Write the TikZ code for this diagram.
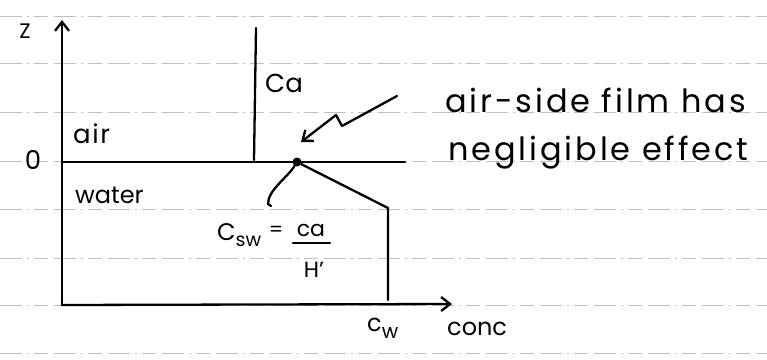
\documentclass[tikz,border=0pt]{standalone}
\usepackage{fontspec}
\setmainfont{Poppins}
\newfontfamily\handwide[LetterSpace=9]{Poppins}
\newfontfamily\handmid[LetterSpace=6]{Poppins}
\usetikzlibrary{arrows.meta}
\tikzset{
  ruled/.style={draw=black!25, line width=0.9pt, dash pattern=on 22pt off 5pt on 2pt off 5pt on 14pt off 6pt},
  ink/.style={draw=black, line width=2.3pt, line cap=round, line join=round},
  lbl/.style={inner sep=0pt, text=black},
  tip/.style={-{Straight Barb[length=9pt,width=14pt,line width=2.3pt]}}
}
\begin{document}
\begin{tikzpicture}[x=1pt,y=-1pt]
\useasboundingbox (0,0) rectangle (767,359);
% notebook ruled lines
\foreach \yy in {16,63,112,161,209,258,305,353}
  \draw[ruled] (0,\yy) -- (767,\yy);
% named points
\coordinate (O) at (62,305);
\coordinate (ztop) at (62,20);
\coordinate (xend) at (452,304);
\coordinate (il) at (62,162);
\coordinate (ir) at (405,162);
\coordinate (cat) at (256,28);
\coordinate (cab) at (254,160);
\coordinate (knee) at (388,208);
\coordinate (cwb) at (388,300);
\coordinate (ldr) at (268,204);
\coordinate (l1) at (397,96);
\coordinate (l2) at (342,126);
\coordinate (l3) at (336,115);
\coordinate (ltip) at (301,142);
\node[circle, fill=black, inner sep=0pt, minimum size=9pt] (dot) at (297,162) {};
% axes
\draw[ink, tip] (O) -- (ztop);
\draw[ink, tip] (O) -- (xend);
% interface
\draw[ink] (il) -- (ir);
% air concentration
\draw[ink] (cat) -- (cab);
% water profile
\draw[ink] (dot) -- (knee) -- (cwb);
% leader to equation
\draw[ink] (dot) .. controls (287,178) and (268,190) .. (ldr) -- (271,206);
% lightning arrow
\draw[ink, tip] (l1) -- (l2) -- (l3) -- (ltip);
% fraction bar
\coordinate (fb1) at (293,243);
\coordinate (fb2) at (330,243);
\draw[ink] (fb1) -- (fb2);
% labels
\node[lbl, font=\fontsize{21}{24}\selectfont] (zl) at (25,31) {Z};
\node[lbl, font=\fontsize{26}{30}\selectfont] (zero) at (33,160) {0};
\node[lbl, anchor=base west, font=\handmid\fontsize{26}{30}\selectfont] (air) at (73,143) {air};
\node[lbl, anchor=base west, font=\fontsize{24}{28}\selectfont] (water) at (75,203) {water};
\node[lbl, anchor=base west, font=\fontsize{26}{30}\selectfont] (ca) at (265,92) {Ca};
\node[lbl, anchor=base west, font=\handwide\fontsize{32}{36}\selectfont] (t1) at (445,112) {air-side film has};
\node[lbl, anchor=base west, font=\handwide\fontsize{32}{36}\selectfont] (t2) at (448,160) {negligible effect};
\node[lbl, anchor=base west, font=\fontsize{24}{28}\selectfont] (conc) at (447,335) {conc};
\node[lbl, anchor=base west, font=\fontsize{24}{28}\selectfont] (cw) at (367,331) {c\raisebox{-0.3em}{\fontsize{20}{24}\selectfont w}};
\node[lbl, anchor=base west, font=\fontsize{24}{28}\selectfont] (csw) at (217,240) {C\raisebox{-0.25em}{\fontsize{19}{22}\selectfont sw}};
\node[lbl, font=\fontsize{20}{24}\selectfont] (eq) at (276,231) {=};
\node[lbl, anchor=base, font=\fontsize{22}{26}\selectfont] (num) at (311,236) {ca};
\node[lbl, anchor=base, font=\fontsize{22}{26}\selectfont] (den) at (314,277) {H'};
\end{tikzpicture}
\end{document}
